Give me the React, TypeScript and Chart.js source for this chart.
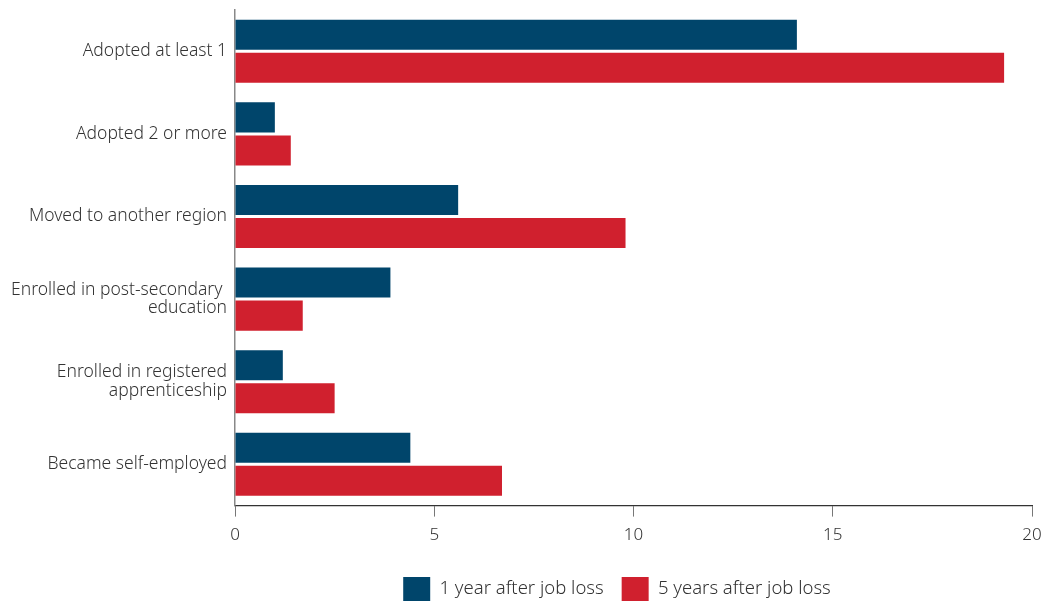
import React, { useEffect, useRef } from "react";
import { Chart, registerables } from "chart.js";

Chart.register(...registerables);

const categories: (string | string[])[] = [
  "Adopted at least 1",
  "Adopted 2 or more",
  "Moved to another region",
  ["Enrolled in post-secondary ", "education"],
  ["Enrolled in registered", "apprenticeship"],
  "Became self-employed",
];
const oneYear = [14.1, 1.0, 5.6, 3.9, 1.2, 4.4];
const fiveYears = [19.3, 1.4, 9.8, 1.7, 2.5, 6.7];
const seriesNames = ["1 year after job loss", "5 years after job loss"];
const xTicks = [0, 5, 10, 15, 20];

const FONT = "'Noto Sans'";

const shiftLegend = {
  id: "shiftLegend",
  afterLayout(chart: any) {
    if (chart.legend) {
      chart.legend.left += 101;
      chart.legend.right += 101;
    }
  },
};

export default function App() {
  const ref = useRef<HTMLCanvasElement>(null);
  useEffect(() => {
    document.body.style.margin = "0";
    const chart = new Chart(ref.current!, {
      type: "bar",
      data: {
        labels: categories,
        datasets: [
          {
            label: seriesNames[0],
            data: oneYear,
            backgroundColor: "#00456B",
            categoryPercentage: 0.8,
            barPercentage: 0.91,
          },
          {
            label: seriesNames[1],
            data: fiveYears,
            backgroundColor: "#D0202E",
            categoryPercentage: 0.8,
            barPercentage: 0.91,
          },
        ],
      },
      plugins: [shiftLegend],
      options: {
        indexAxis: "y",
        responsive: false,
        animation: false,
        layout: { padding: { top: 10, right: 13, left: 0, bottom: -3 } },
        scales: {
          x: {
            min: 0,
            max: 20,
            afterBuildTicks: (scale: any) => {
              scale.ticks = xTicks.map((v) => ({ value: v }));
            },
            afterFit: (scale: any) => {
              scale.height = scale.height + 6;
              scale.paddingRight = 0;
              scale.paddingLeft = 0;
            },
            grid: {
              drawOnChartArea: false,
              drawTicks: true,
              tickLength: 11,
              color: "#777",
            },
            border: { display: true, color: "#333", width: 1.2 },
            ticks: {
              color: "#333",
              font: { family: FONT, size: 17, weight: 300 },
              padding: 8,
            },
          },
          y: {
            grid: { display: false, drawTicks: false },
            border: { display: true, color: "#888", width: 1.5 },
            afterFit: (scale: any) => {
              scale.width = 235;
              scale.paddingTop = 0;
              scale.paddingBottom = 0;
            },
            ticks: {
              color: "#333",
              font: { family: FONT, size: 17.5, weight: 300, lineHeight: 1.07 },
              padding: 8,
            },
          },
        },
        plugins: {
          legend: {
            position: "bottom",
            labels: {
              boxWidth: 27,
              boxHeight: 24,
              color: "#333",
              font: { family: FONT, size: 18.5, weight: 300 },
              padding: 18,
            },
          },
          tooltip: { enabled: false },
        },
      },
    });
    return () => chart.destroy();
  }, []);
  return <canvas ref={ref} width={1045} height={608} style={{ display: "block" }} />;
}
